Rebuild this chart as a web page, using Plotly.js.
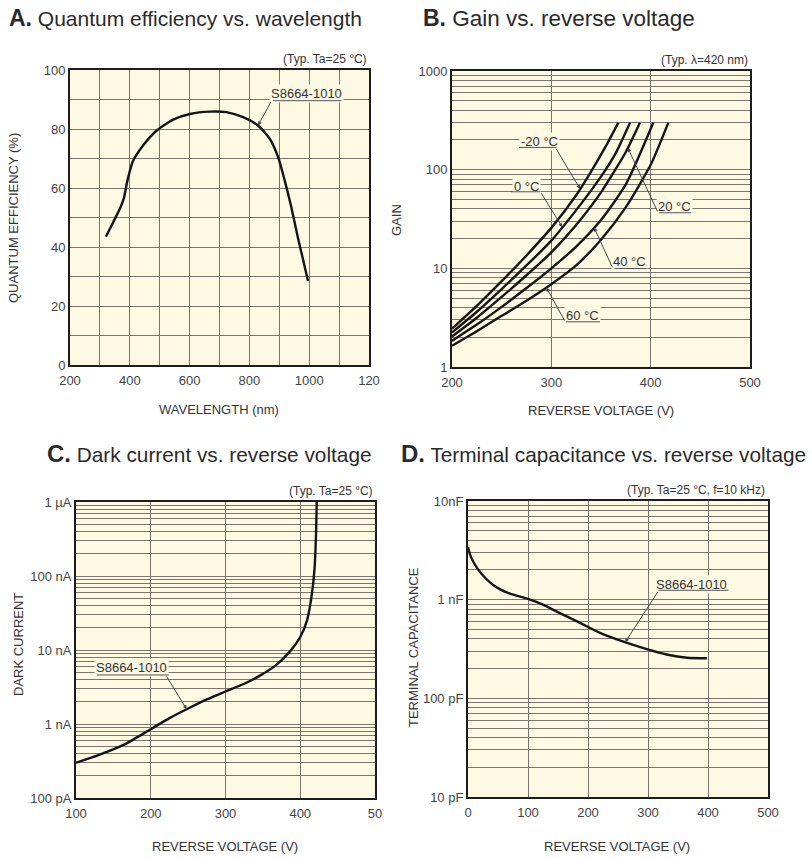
<!DOCTYPE html>
<html><head><meta charset="utf-8">
<script src="https://cdn.plot.ly/plotly-3.0.1.min.js"></script>
<style>html,body{margin:0;padding:0;background:#fff}#chart{width:812px;height:858px}</style>
</head><body><div id="chart"></div>
<script>
// ---------- DATA ----------
// A. Quantum efficiency vs. wavelength
const qeWavelength = [320,345,369,380,392,410,445,490,545,601,668,723,779,829,868,896,918,940,963,980,996];
const qeValue      = [43.5,48.5,53.5,56.5,62.5,69,74.5,79.5,83.2,85.1,85.9,85.7,84,81.2,76.7,70.5,62.6,53.6,42.8,35.5,28.5];
const qeTickVals = [200,300,400,500,600,700,800,900,1000,1100,1200];
const qeTickText = ['200','','400','','600','','800','','1000','','120'];
const qeYTickVals = [0,10,20,30,40,50,60,70,80,90,100];
const qeYTickText = ['0','','20','','40','','60','','80','','100'];

// B. Gain vs. reverse voltage
const gainTemps = ['-20 °C','0 °C','20 °C','40 °C','60 °C'];
const gainVm20 = [200,225,250,275,300,325,340,355,367.5];
const gainGm20 = [2.45,4.17,7.41,13.5,25.7,55,95.5,174,300];
const gainV0   = [200,225,250,275,300,325,350,365,379.3];
const gainG0   = [2.24,3.63,6.17,10.7,19.1,38.9,85.1,148,300];
const gainV20  = [200,225,250,275,300,325,350,375,389.3];
const gainG20  = [2.04,3.16,5.13,8.51,14.5,27.5,58.9,151,300];
const gainV40  = [200,225,250,275,300,325,350,375,402.7];
const gainG40  = [1.84,2.69,4.07,6.31,10,16.6,30.9,70.8,300];
const gainV60  = [200,225,250,275,300,325,350,375,400,417.8];
const gainG60  = [1.64,2.3,3.3,4.7,6.9,10.7,19.5,41.7,112,300];
const gainXTicks = [200,300,400,500];
const gainYMajor = [1,10,100,1000];

// C. Dark current vs. reverse voltage
const dcVoltage = [100,130,165,200,225,250,275,300,325,346,368,386,400,409,415,419,421,422];
const dcCurrent = [3.0e-10,3.8e-10,5.3e-10,8.5e-10,1.2e-9,1.62e-9,2.15e-9,2.75e-9,3.5e-9,4.5e-9,6.3e-9,9.5e-9,1.5e-8,2.5e-8,5.2e-8,1.2e-7,3.4e-7,1.0e-6];
const dcXTickVals = [100,200,300,400,500];
const dcXTickText = ['100','200','300','400','50'];
const dcYMajor = [1e-10,1e-9,1e-8,1e-7,1e-6];
const dcYText  = ['100 pA','1 nA','10 nA','100 nA','1 µA'];

// D. Terminal capacitance vs. reverse voltage
const tcVoltage = [0,5,15,30,47,70,100,125,153,186,220,259,298,331,365,398];
const tcCap     = [3.4e-9,2.7e-9,2.1e-9,1.63e-9,1.34e-9,1.15e-9,1.02e-9,8.9e-10,7.3e-10,5.85e-10,4.6e-10,3.75e-10,3.15e-10,2.78e-10,2.58e-10,2.55e-10];
const tcXTicks = [0,100,200,300,400,500];
const tcYMajor = [1e-11,1e-10,1e-9,1e-8];
const tcYText  = ['10 pF','100 pF','1 nF','10nF'];

// ---------- HELPERS ----------
const W = 812, H = 858;
const px = v => v / W;
const py = v => 1 - v / H;
const FONT = 'Liberation Sans, Arial, sans-serif';
const GRID = '#7f746d';
const BG = '#fdf9e3';
const INK = '#151515';

function logTicks(major) {
  const vals = [];
  for (let i = 0; i < major.length; i++) {
    for (let k = 1; k <= 9; k++) {
      if (i === major.length - 1 && k > 1) break;
      vals.push(major[i] * k);
    }
  }
  return vals;
}
function logTickText(major, labels) {
  const text = [];
  for (let i = 0; i < major.length; i++) {
    for (let k = 1; k <= 9; k++) {
      if (i === major.length - 1 && k > 1) break;
      text.push(k === 1 ? labels[i] : '');
    }
  }
  return text;
}
function atLog(xs, ys, x) {
  for (let i = 0; i < xs.length - 1; i++) {
    if (x >= xs[i] && x <= xs[i + 1]) {
      const t = (x - xs[i]) / (xs[i + 1] - xs[i]);
      return Math.log10(ys[i]) * (1 - t) + Math.log10(ys[i + 1]) * t;
    }
  }
  return Math.log10(ys[ys.length - 1]);
}
function atLin(xs, ys, x) {
  for (let i = 0; i < xs.length - 1; i++) {
    if (x >= xs[i] && x <= xs[i + 1]) {
      const t = (x - xs[i]) / (xs[i + 1] - xs[i]);
      return ys[i] * (1 - t) + ys[i + 1] * t;
    }
  }
  return ys[ys.length - 1];
}
function axisBase(extra) {
  return Object.assign({
    showline: true, linecolor: '#1c1c1c', linewidth: 2, mirror: true,
    ticks: '', showgrid: true, gridcolor: GRID, gridwidth: 1, zeroline: false,
    tickfont: {family: FONT, size: 13, color: '#444'}, fixedrange: true,
    tickmode: 'array', layer: 'below traces'
  }, extra);
}
const lineStyle = {color: INK, width: 2.4, shape: 'spline', smoothing: 0.6};

// ---------- TRACES ----------
const traces = [
  {x: qeWavelength, y: qeValue, xaxis: 'x', yaxis: 'y', mode: 'lines', line: lineStyle},
  {x: gainVm20, y: gainGm20, xaxis: 'x2', yaxis: 'y2', mode: 'lines', line: lineStyle, name: gainTemps[0]},
  {x: gainV0,   y: gainG0,   xaxis: 'x2', yaxis: 'y2', mode: 'lines', line: lineStyle, name: gainTemps[1]},
  {x: gainV20,  y: gainG20,  xaxis: 'x2', yaxis: 'y2', mode: 'lines', line: lineStyle, name: gainTemps[2]},
  {x: gainV40,  y: gainG40,  xaxis: 'x2', yaxis: 'y2', mode: 'lines', line: lineStyle, name: gainTemps[3]},
  {x: gainV60,  y: gainG60,  xaxis: 'x2', yaxis: 'y2', mode: 'lines', line: lineStyle, name: gainTemps[4]},
  {x: dcVoltage, y: dcCurrent, xaxis: 'x3', yaxis: 'y3', mode: 'lines', line: lineStyle},
  {x: tcVoltage, y: tcCap, xaxis: 'x4', yaxis: 'y4', mode: 'lines', line: lineStyle}
];

// ---------- ANNOTATIONS ----------
const ann = [];
function title(x, y, letter, text, size, lsize) {
  ann.push({xref: 'paper', yref: 'paper', x: px(x), y: py(y), xanchor: 'left', yanchor: 'middle', showarrow: false,
    text: '<span style="font-weight:bold;font-size:' + lsize + 'px">' + letter + '</span>' + text,
    font: {family: FONT, size: size, color: '#2a2a2a'}});
}
title(7, 18, 'A.', ' Quantum efficiency vs. wavelength', 21, 23);
title(421, 18, 'B.', ' Gain vs. reverse voltage', 22.5, 23);
title(45, 453, 'C.', ' Dark current vs. reverse voltage', 20.8, 24);
title(399, 454, 'D.', ' Terminal capacitance vs. reverse voltage', 20.8, 24);

function ptext(x, y, text, angle, anchor, size) {
  ann.push({xref: 'paper', yref: 'paper', x: px(x), y: py(y), xanchor: anchor || 'center', yanchor: 'middle',
    showarrow: false, text: text, textangle: angle || 0, font: {family: FONT, size: size || 13, color: '#333'}});
}
ptext(14, 218, 'QUANTUM EFFICIENCY (%)', -90);
ptext(219, 410, 'WAVELENGTH (nm)');
ptext(397, 220, 'GAIN', -90);
ptext(601, 411, 'REVERSE VOLTAGE (V)');
ptext(18, 645, 'DARK CURRENT', -90);
ptext(225, 846, 'REVERSE VOLTAGE (V)');
ptext(413, 647, 'TERMINAL CAPACITANCE', -90);
ptext(617, 846, 'REVERSE VOLTAGE (V)');
ptext(369, 59, '(Typ. Ta=25 °C)', 0, 'right', 12);
ptext(750, 60, '(Typ. λ=420 nm)', 0, 'right', 12);
ptext(375, 491, '(Typ. Ta=25 °C)', 0, 'right', 12);
ptext(767, 490, '(Typ. Ta=25 °C, f=10 kHz)', 0, 'right', 12);

function curveLabel(ax, ay, text, tx, ty, ux0, ux1, uy, sx, hx, hy) {
  ann.push({xref: ax, yref: ay, x: tx, y: ty, text: text, showarrow: false, bgcolor: BG, borderpad: 1,
    font: {family: FONT, size: 13, color: '#333'}});
  ann.push({xref: ax, yref: ay, axref: ax, ayref: ay, x: ux1, y: uy, ax: ux0, ay: uy, text: '',
    showarrow: true, arrowhead: 0, arrowwidth: 1, arrowcolor: '#555', standoff: 0, startstandoff: 0});
  ann.push({xref: ax, yref: ay, axref: ax, ayref: ay, x: hx, y: hy, ax: sx, ay: uy, text: '',
    showarrow: true, arrowhead: 2, arrowsize: 0.8, arrowwidth: 1, arrowcolor: '#444', standoff: 0, startstandoff: 0});
}
curveLabel('x', 'y', 'S8664-1010', 990, 92.1, 874, 1108, 89.6, 874, 829, atLin(qeWavelength, qeValue, 829));
curveLabel('x2', 'y2', gainTemps[0], 287.7, Math.log10(192), 266, 305, Math.log10(168), 304, 329, atLog(gainVm20, gainGm20, 329));
curveLabel('x2', 'y2', gainTemps[1], 275, Math.log10(68), 258, 289, Math.log10(59.7), 289, 311, atLog(gainV0, gainG0, 311));
curveLabel('x2', 'y2', gainTemps[2], 424.4, Math.log10(42.6), 407, 441, Math.log10(36.6), 407.5, 377, atLog(gainV20, gainG20, 377));
curveLabel('x2', 'y2', gainTemps[3], 379, Math.log10(11.6), 362, 396, Math.log10(9.96), 362, 343, atLog(gainV40, gainG40, 343));
curveLabel('x2', 'y2', gainTemps[4], 331.3, Math.log10(3.34), 313, 349, Math.log10(2.87), 314, 295, atLog(gainV60, gainG60, 295));
curveLabel('x3', 'y3', 'S8664-1010', 173.6, Math.log10(5.8e-9), 126, 224, -8.337, 220, 248, atLog(dcVoltage, dcCurrent, 248));
curveLabel('x4', 'y4', 'S8664-1010', 373, Math.log10(1.43e-9), 315, 434, -8.905, 318, 262, atLog(tcVoltage, tcCap, 262));

// ---------- LAYOUT ----------
const layout = {
  width: W, height: H, margin: {l: 0, r: 0, t: 0, b: 0},
  paper_bgcolor: '#ffffff', plot_bgcolor: BG, showlegend: false,
  font: {family: FONT, color: '#333'},
  xaxis: axisBase({domain: [px(70), px(369)], range: [200, 1200], tickvals: qeTickVals, ticktext: qeTickText, anchor: 'y', ticklabelstandoff: 2}),
  yaxis: axisBase({domain: [py(365), py(70)], range: [0, 100], tickvals: qeYTickVals, ticktext: qeYTickText, anchor: 'x'}),
  xaxis2: axisBase({domain: [px(452), px(750)], range: [200, 500], tickvals: gainXTicks, ticktext: gainXTicks.map(String), anchor: 'y2', ticklabelstandoff: 2}),
  yaxis2: axisBase({domain: [py(367), py(71)], type: 'log', range: [0, 3], tickvals: logTicks(gainYMajor), ticktext: logTickText(gainYMajor, gainYMajor.map(String)), anchor: 'x2'}),
  xaxis3: axisBase({domain: [px(76), px(375)], range: [100, 500], tickvals: dcXTickVals, ticktext: dcXTickText, anchor: 'y3', ticklabelstandoff: 2}),
  yaxis3: axisBase({domain: [py(798), py(502)], type: 'log', range: [-10, -6], tickvals: logTicks(dcYMajor), ticktext: logTickText(dcYMajor, dcYText), anchor: 'x3'}),
  xaxis4: axisBase({domain: [px(468), px(768)], range: [0, 500], tickvals: tcXTicks, ticktext: tcXTicks.map(String), anchor: 'y4', ticklabelstandoff: 2}),
  yaxis4: axisBase({domain: [py(797), py(501)], type: 'log', range: [-11, -8], tickvals: logTicks(tcYMajor), ticktext: logTickText(tcYMajor, tcYText), anchor: 'x4'}),
  annotations: ann
};

Plotly.newPlot('chart', traces, layout, {displayModeBar: false, staticPlot: true});
</script>
</body></html>
